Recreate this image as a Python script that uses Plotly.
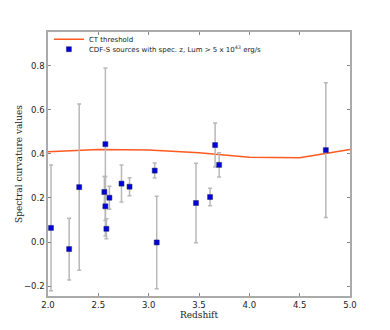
import plotly.graph_objects as go

# CT threshold curve
ct_z = [2.0, 2.5, 3.0, 3.5, 4.0, 4.5, 5.0]
ct_val = [0.41, 0.42, 0.417, 0.405, 0.385, 0.382, 0.42]

# CDF-S sources
redshift = [2.03, 2.21, 2.31, 2.56, 2.57, 2.57, 2.58, 2.61, 2.73, 2.81,
            3.06, 3.08, 3.47, 3.61, 3.66, 3.70, 4.76]
curvature = [0.064, -0.032, 0.249, 0.227, 0.444, 0.162, 0.06, 0.201, 0.265, 0.251,
             0.324, -0.002, 0.177, 0.204, 0.44, 0.35, 0.417]
curv_err = [0.285, 0.14, 0.377, 0.07, 0.346, 0.135, 0.045, 0.052, 0.084, 0.041,
            0.034, 0.21, 0.18, 0.04, 0.1, 0.055, 0.306]

fig = go.Figure()
fig.add_trace(go.Scatter(
    x=ct_z, y=ct_val, mode="lines", name="CT threshold",
    line=dict(color="#ff5a1f", width=1.5), legend="legend",
))
fig.add_trace(go.Scatter(
    x=redshift, y=curvature, mode="markers",
    name="CDF-S sources with spec. z, Lum > 5 x 10<sup>43</sup> erg/s",
    marker=dict(symbol="square", size=5, color="#0000dd",
                line=dict(color="#222266", width=0.5)),
    error_y=dict(type="data", array=curv_err, visible=True,
                 color="#b8b8b8", thickness=1.5, width=2),
    legend="legend2",
))

axis_common = dict(
    showgrid=False, zeroline=False, showline=True, mirror="ticks",
    linecolor="#aaaaaa", linewidth=1.5, ticks="inside", ticklen=3,
    tickcolor="#888888", tickformat=".1f", automargin=False,
    tickfont=dict(family="DejaVu Sans", size=8.5, color="#222222"),
)

legend_common = dict(
    xanchor="left", yanchor="middle", bgcolor="rgba(0,0,0,0)", borderwidth=0,
    font=dict(family="DejaVu Sans", size=7, color="#222222"), itemwidth=30,
)

# page body adds an 8px offset, so margins are shifted by that amount
fig.update_layout(
    width=390, height=330,
    margin=dict(l=40, r=48, t=24, b=42),
    paper_bgcolor="white", plot_bgcolor="white",
    showlegend=True,
    legend=dict(legend_common, x=0.003, y=0.973),
    legend2=dict(legend_common, x=0.003, y=0.935),
    xaxis=dict(axis_common, range=[2.0, 5.0], dtick=0.5,
               title=dict(text="Redshift", standoff=0,
                          font=dict(family="DejaVu Serif", size=9, color="#222222"))),
    yaxis=dict(axis_common, range=[-0.245, 0.953], dtick=0.2,
               title=dict(text="Spectral curvature values", standoff=0,
                          font=dict(family="DejaVu Serif", size=9, color="#222222"))),
)

fig.write_html("out.html")
